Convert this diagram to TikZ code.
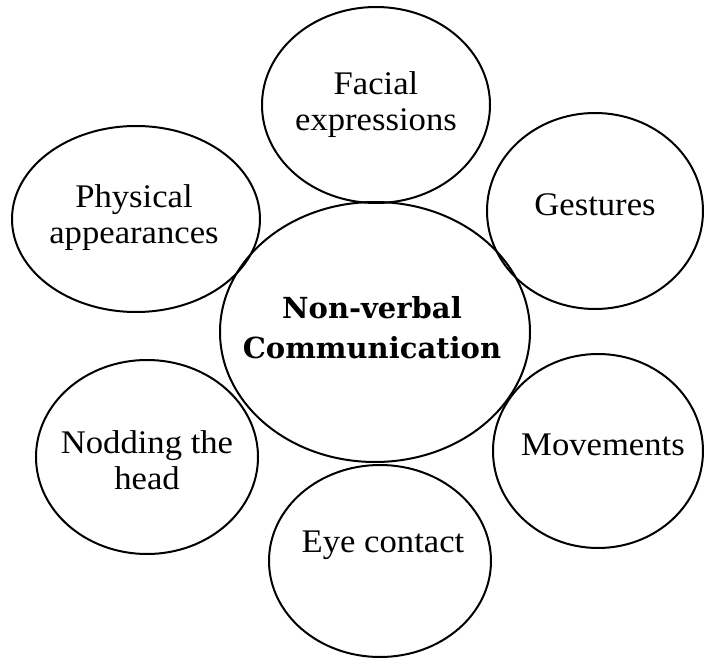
\documentclass[tikz,border=0pt]{standalone}
\usepackage{fontspec}
\setmainfont{Liberation Serif}[FakeStretch=1.05]
\newfontfamily\hubfont{DejaVu Serif}
\usetikzlibrary{shapes.geometric}
\begin{document}
\begin{tikzpicture}[x=1pt,y=-1pt,
  bubble/.style={ellipse, draw=black, line width=2pt, inner sep=0pt},
  caption/.style={align=center, inner sep=0pt,
    font=\fontsize{33pt}{36pt}\selectfont},
  hubtext/.style={align=center, inner sep=0pt,
    font=\hubfont\bfseries\fontsize{29pt}{40pt}\selectfont}]
\useasboundingbox (0,0) rectangle (705,658);

% outline ellipses
\node[bubble, minimum width=310pt, minimum height=260pt] (hub) at (375,332) {};
\node[bubble, minimum width=228pt, minimum height=196pt] (facial) at (376,105) {};
\node[bubble, minimum width=248pt, minimum height=186pt] (physical) at (136,219) {};
\node[bubble, minimum width=216pt, minimum height=196pt] (gestures) at (595,211) {};
\node[bubble, minimum width=222pt, minimum height=194pt] (nodding) at (147,457) {};
\node[bubble, minimum width=210pt, minimum height=194pt] (movements) at (598,451) {};
\node[bubble, minimum width=222pt, minimum height=192pt] (eye) at (380,561) {};

% labels
\node[hubtext] (hub-label) at (372,328) {Non-verbal\\Communication};
\node[caption] (facial-label) at (376,105) {Facial\\expressions};
\node[caption] (physical-label) at (134,218) {Physical\\appearances};
\node[caption] (gestures-label) at (595,205) {Gestures};
\node[caption] (nodding-label) at (147,460) {Nodding the\\head};
\node[caption] (movements-label) at (603,445) {Movements};
\node[caption] (eye-label) at (383,545) {Eye contact};
\end{tikzpicture}
\end{document}
